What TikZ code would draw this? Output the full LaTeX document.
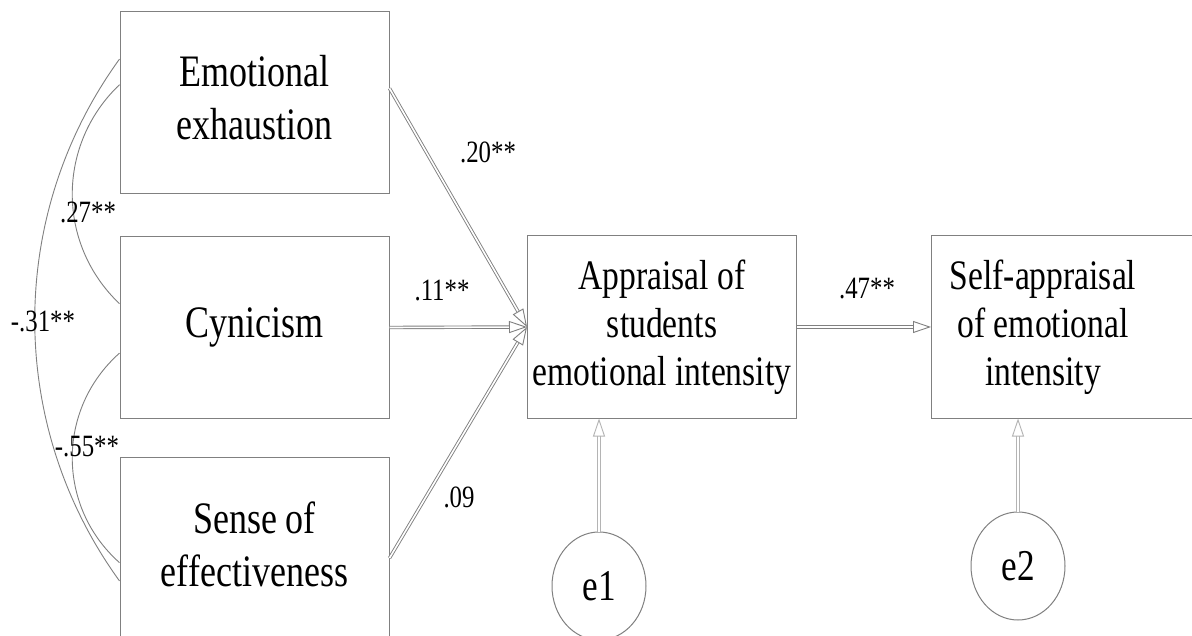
\documentclass[tikz,border=0pt]{standalone}
\usepackage{fontspec}
\setmainfont[FakeStretch=0.8]{Liberation Serif}
\usetikzlibrary{shapes.geometric,calc,arrows.meta}
\definecolor{bline}{HTML}{808080}
\definecolor{eline}{HTML}{B4B4B4}
\begin{document}
\begin{tikzpicture}[x=1pt,y=-1pt,
 box/.style={draw=bline, line width=1pt, minimum width=269pt, minimum height=182pt, inner sep=0pt, align=center},
 ltext/.style={font=\fontsize{45}{53}\selectfont},
 rtext/.style={font=\fontsize{42}{48}\selectfont, align=center, inner sep=0pt},
 lab/.style={font=\fontsize{31}{31}\selectfont, inner sep=0pt},
 err/.style={ellipse, draw=bline, line width=1pt, minimum width=94pt, minimum height=108pt, inner sep=0pt, font=\fontsize{44}{44}\selectfont},
 shaft/.style={draw=bline, line width=0.9pt, double=white, double distance=1.6pt, -{Triangle[open, length=18pt, width=12pt, line width=0.9pt]}},
 eshaft/.style={shaft, draw=eline},
 cov/.style={draw=bline, line width=0.9pt}]
\clip (0,0) rectangle (1192,636);
\fill[white] (0,0) rectangle (1192,636);
% boxes
\node[box] (ee) at (254.5,103) {};
\node[ltext, align=center, inner sep=0pt] (eet) at ([yshift=5pt]ee.center) {Emotional\\exhaustion};
\node[box, ltext] (cy) at (254.5,327.5) {Cynicism};
\node[box] (se) at (254.5,548) {};
\node[ltext, align=center, inner sep=0pt] (set) at ([yshift=4pt]se.center) {Sense of\\effectiveness};
\node[box] (ap) at (662,327) {};
\node[rtext] (apt) at (ap.center) {Appraisal of\\students\\emotional intensity};
\node[box] (sa) at (1066,327) {};
\node[rtext] (sat) at ([xshift=-23pt]sa.center) {Self-appraisal\\of emotional\\intensity};
\node[err] (e1) at (599,586) {e1};
\node[err] (e2) at (1018,566) {e2};
% covariances
\draw[cov] ($(ee.north west)!0.40!(ee.south west)$) .. controls +(-63,60) and +(-63,-60) .. ($(cy.north west)!0.37!(cy.south west)$);
\draw[cov] ($(cy.north west)!0.64!(cy.south west)$) .. controls +(-63,56) and +(-63,-56) .. ($(se.north west)!0.58!(se.south west)$);
\draw[cov] ($(ee.north west)!0.26!(ee.south west)$) .. controls +(-113,156) and +(-113,-156) .. ($(se.north west)!0.68!(se.south west)$);
% paths
\draw[shaft] ($(ee.north east)!0.42!(ee.south east)$) -- (ap.west);
\draw[shaft] ($(se.north east)!0.555!(se.south east)$) -- (ap.west);
\draw[shaft] (cy.east) -- (ap.west);
\draw[shaft] (ap.east) -- (sa.west);
\draw[eshaft] (e1) -- (e1 |- ap.south);
\draw[eshaft] (e2) -- (e2 |- sa.south);
% labels
\node[lab] (l20) at (488,152) {.20**};
\node[lab] (l11) at (442,290) {.11**};
\node[lab] (l09) at (459,497) {.09};
\node[lab] (l47) at (867,289) {.47**};
\node[lab] (l27) at (88,212) {.27**};
\node[lab] (l31) at (43,321) {-.31**};
\node[lab] (l55) at (87,447) {-.55**};
\end{tikzpicture}
\end{document}
